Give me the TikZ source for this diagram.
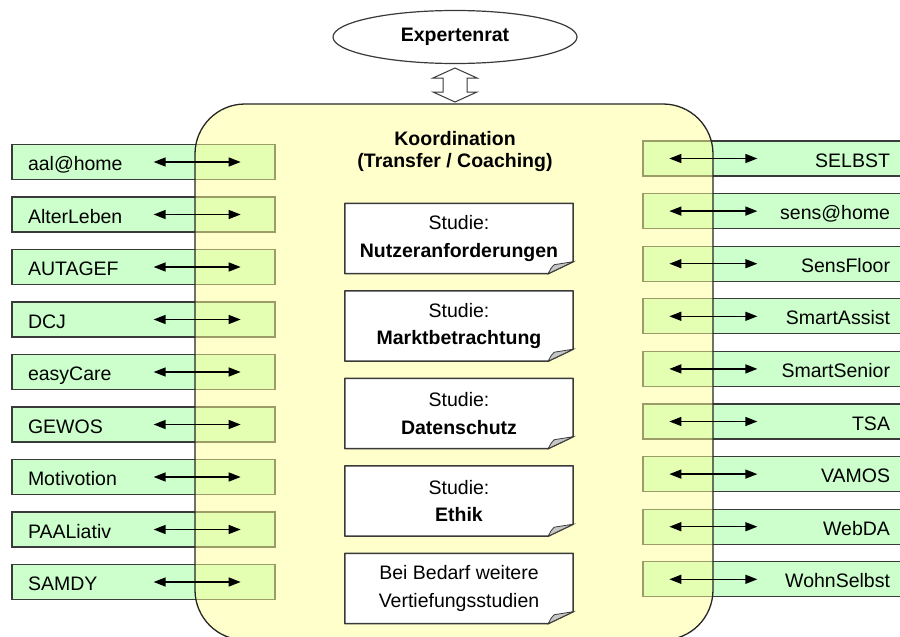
\documentclass[tikz,border=0pt]{standalone}
\usepackage{fontspec}
\setmainfont{Liberation Sans}
\usetikzlibrary{shapes.geometric,arrows.meta}
\pgfdeclarelayer{bg}
\pgfdeclarelayer{mid}
\pgfsetlayers{bg,mid,main}
\definecolor{boxgreen}{HTML}{CCFFCC}
\definecolor{coordyellow}{HTML}{FFFF99}
\definecolor{edgegray}{HTML}{3A3A3A}
\tikzset{
  lbox/.style={draw=edgegray, line width=1.3pt, fill=boxgreen, rectangle,
    minimum height=35pt, text width=231pt, inner xsep=16pt, inner ysep=0pt, align=left,
    text height=17pt, text depth=0pt,
    font=\fontsize{19.5}{23}\selectfont},
  rbox/.style={draw=edgegray, line width=1.3pt, fill=boxgreen, rectangle,
    minimum height=35pt, text width=232pt, inner xsep=15pt, inner ysep=0pt, align=right,
    text height=17pt, text depth=0pt,
    font=\fontsize{19.5}{23}\selectfont},
  biarrow/.style={line width=1.4pt, {Triangle[length=12pt,width=9pt]}-{Triangle[length=12pt,width=9pt]}},
  study/.style={rectangle, minimum width=228pt, minimum height=70pt, align=center,
    font=\fontsize{19.5}{27.5}\selectfont},
  studyline/.style={draw=edgegray, line width=1.5pt, fill=white, line join=round},
  foldcorner/.style={draw=edgegray, line width=0.8pt, fill=gray!45},
}
\newcommand{\studyshape}[1]{%
  \begin{pgfonlayer}{mid}
    \draw[studyline] (#1.north west) -- (#1.north east) -- ([yshift=12pt]#1.south east)
      -- ([xshift=-25pt]#1.south east) -- (#1.south west) -- cycle;
    \draw[foldcorner] ([yshift=12pt]#1.south east) -- ([xshift=-25pt]#1.south east)
      .. controls ([xshift=-22pt,yshift=6pt]#1.south east) .. ([xshift=-19pt,yshift=9pt]#1.south east) -- cycle;
  \end{pgfonlayer}}
\begin{document}
\begin{tikzpicture}[x=1pt,y=-1pt]
\useasboundingbox (0,0) rectangle (900,637);
\clip (0,0) rectangle (900,637);

% expert council
\node[ellipse, draw=edgegray, line width=1.2pt, fill=white, minimum width=244pt, minimum height=53pt,
  inner sep=0pt, font=\bfseries\fontsize{19.5}{23}\selectfont] (exp) at (455,37) {Expertenrat};

% hollow double arrow
\draw[draw=edgegray, line width=1pt, fill=white, line join=miter]
  (455,68) -- (477,78) -- (467,78) -- (467,92) -- (477,92) -- (455,102) -- (433,92)
  -- (443,92) -- (443,78) -- (433,78) -- cycle;

\begin{pgfonlayer}{bg}
  \fill[white] (0,0) rectangle (900,637);
  % left boxes
  \foreach \t [count=\i] in {aal@home,AlterLeben,AUTAGEF,DCJ,easyCare,GEWOS,Motivotion,PAALiativ,SAMDY} {
    \node[lbox] (l\i) at (143.5,{162+(\i-1)*52.5}) {\t};
  }
  % right boxes
  \foreach \t [count=\i] in {SELBST,sens@home,SensFloor,SmartAssist,SmartSenior,TSA,VAMOS,WebDA,WohnSelbst} {
    \node[rbox] (r\i) at (774,{158.5+(\i-1)*52.6}) {\t};
  }
  % coordination box
  \draw[draw=black!85, line width=1.3pt, fill=coordyellow, fill opacity=0.5, rounded corners=50pt]
    (195,104) rectangle (713,640);
\end{pgfonlayer}

% arrows
\foreach \i in {1,...,9} {
  \draw[biarrow] ([xshift=-122pt]l\i.east) -- ([xshift=-35pt]l\i.east);
  \draw[biarrow] ([xshift=27pt]r\i.west) -- ([xshift=115pt]r\i.west);
}

% title
\node[align=center, font=\bfseries\fontsize{19.5}{22}\selectfont] (title) at (455,151)
  {Koordination\\(Transfer / Coaching)};

% studies
\node[study] (s1) at (459,238.5) {Studie:\\\textbf{Nutzeranforderungen}};
\node[study] (s2) at (459,326) {Studie:\\\textbf{Marktbetrachtung}};
\node[study] (s3) at (459,413.5) {Studie:\\\textbf{Datenschutz}};
\node[study] (s4) at (459,501) {Studie:\\\textbf{Ethik}};
\node[study] (s5) at (459,588.5) {Bei Bedarf weitere\\Vertiefungsstudien};
\studyshape{s1}
\studyshape{s2}
\studyshape{s3}
\studyshape{s4}
\studyshape{s5}
\end{tikzpicture}
\end{document}
